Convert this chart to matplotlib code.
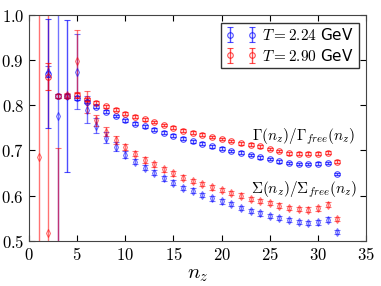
import numpy as np
import matplotlib
matplotlib.use("Agg")
import matplotlib.pyplot as plt

plt.rcParams["mathtext.fontset"] = "cm"
plt.rcParams["font.family"] = "DejaVu Sans"

nan = np.nan
nz = np.arange(1, 33)

# Gamma(n_z)/Gamma_free(n_z)
gamma_224 = [nan, 0.870, 0.820, 0.820, 0.816, 0.808, 0.797, 0.786, 0.776, 0.767,
             0.759, 0.753, 0.746, 0.739, 0.733, 0.726, 0.720, 0.715, 0.709, 0.704,
             0.699, 0.695, 0.690, 0.685, 0.681, 0.676, 0.672, 0.670, 0.670, 0.671,
             0.672, 0.648]
gamma_224_err = [nan, 0.12, 0.004, 0.168, 0.005, 0.004, 0.004, 0.003, 0.003, 0.003,
                 0.003, 0.003, 0.003, 0.003, 0.003, 0.003, 0.003, 0.003, 0.003, 0.003,
                 0.003, 0.003, 0.003, 0.003, 0.003, 0.003, 0.003, 0.003, 0.003, 0.003,
                 0.003, 0.003]
gamma_290 = [nan, 0.863, 0.821, 0.821, 0.822, 0.813, 0.806, 0.798, 0.790, 0.781,
             0.775, 0.769, 0.763, 0.756, 0.750, 0.744, 0.739, 0.735, 0.730, 0.725,
             0.721, 0.716, 0.713, 0.709, 0.703, 0.699, 0.694, 0.693, 0.693, 0.693,
             0.695, 0.675]
gamma_290_err = [nan, 0.03, 0.004, 0.004, 0.005, 0.004, 0.004, 0.003, 0.003, 0.003,
                 0.003, 0.003, 0.003, 0.003, 0.003, 0.003, 0.003, 0.003, 0.003, 0.003,
                 0.003, 0.003, 0.003, 0.003, 0.003, 0.003, 0.003, 0.003, 0.003, 0.003,
                 0.003, 0.003]

# Sigma(n_z)/Sigma_free(n_z)
sigma_224 = [nan, 0.874, 0.777, 0.820, 0.874, 0.790, 0.755, 0.728, 0.708, 0.691,
             0.675, 0.662, 0.651, 0.638, 0.629, 0.617, 0.611, 0.601, 0.594, 0.587,
             0.581, 0.573, 0.566, 0.561, 0.555, 0.550, 0.546, 0.542, 0.539, 0.541,
             0.547, 0.519]
sigma_224_err = [nan, 0.012, 0.3, 0.005, 0.083, 0.03, 0.017, 0.012, 0.01, 0.007,
                 0.006, 0.006, 0.005, 0.005, 0.005, 0.005, 0.005, 0.005, 0.005, 0.005,
                 0.005, 0.005, 0.005, 0.005, 0.005, 0.005, 0.005, 0.005, 0.005, 0.005,
                 0.005, 0.005]
sigma_290 = [0.686, 0.517, 0.45, 0.822, 0.898, 0.807, 0.767, 0.741, 0.723, 0.708,
             0.693, 0.679, 0.669, 0.658, 0.649, 0.640, 0.632, 0.626, 0.618, 0.612,
             0.606, 0.600, 0.593, 0.588, 0.584, 0.578, 0.573, 0.570, 0.569, 0.572,
             0.580, 0.548]
sigma_290_err = [0.4, 0.5, 0.255, 0.005, 0.068, 0.025, 0.012, 0.01, 0.008, 0.007,
                 0.006, 0.006, 0.005, 0.005, 0.005, 0.005, 0.005, 0.005, 0.005, 0.005,
                 0.005, 0.005, 0.005, 0.005, 0.005, 0.005, 0.005, 0.005, 0.005, 0.005,
                 0.005, 0.005]

fig = plt.figure(figsize=(3.81, 2.86), dpi=100)
ax = fig.add_axes([0.076, 0.158, 0.885, 0.79])

kw = dict(ls="none", mfc="none", ms=4, capsize=2, elinewidth=1, mew=0.8)
ax.errorbar(nz, sigma_224, yerr=sigma_224_err, fmt="d", color="b", alpha=0.55, **kw)
ax.errorbar(nz, sigma_290, yerr=sigma_290_err, fmt="d", color="r", alpha=0.55, **kw)
ax.errorbar(nz, gamma_224, yerr=gamma_224_err, fmt="o", color="b", alpha=0.7,
            label=r"$T = 2.24$ GeV", **kw)
ax.errorbar(nz, gamma_290, yerr=gamma_290_err, fmt="o", color="r", alpha=0.7,
            label=r"$T = 2.90$ GeV", **kw)

ax.text(23.2, 0.730, r"$\Gamma(n_z)/\Gamma_{free}(n_z)$", fontsize=11, va="center")
ax.text(23.1, 0.612, r"$\Sigma(n_z)/\Sigma_{free}(n_z)$", fontsize=11, va="center")

ax.set_xlim(0, 35)
ax.set_ylim(0.5, 1.0)
ax.set_xticks([0, 5, 10, 15, 20, 25, 30, 35])
ax.set_xticklabels([f"${v}$" for v in [0, 5, 10, 15, 20, 25, 30, 35]])
ax.set_yticks([0.5, 0.6, 0.7, 0.8, 0.9, 1.0])
ax.set_yticklabels([f"${v:.1f}$" for v in [0.5, 0.6, 0.7, 0.8, 0.9, 1.0]])
ax.tick_params(direction="in", top=True, right=True, labelsize=12, length=4)
ax.set_xlabel(r"$n_z$", fontsize=15, labelpad=0)
for s in ax.spines.values():
    s.set_color("#444444")

leg = ax.legend(loc="upper right", numpoints=2, fancybox=False, fontsize=11,
                borderpad=0.3, handletextpad=0.4, labelspacing=0.3,
                handlelength=2.0, borderaxespad=0.5)
leg.get_frame().set_edgecolor("black")

fig.savefig("out.png", dpi=100)
